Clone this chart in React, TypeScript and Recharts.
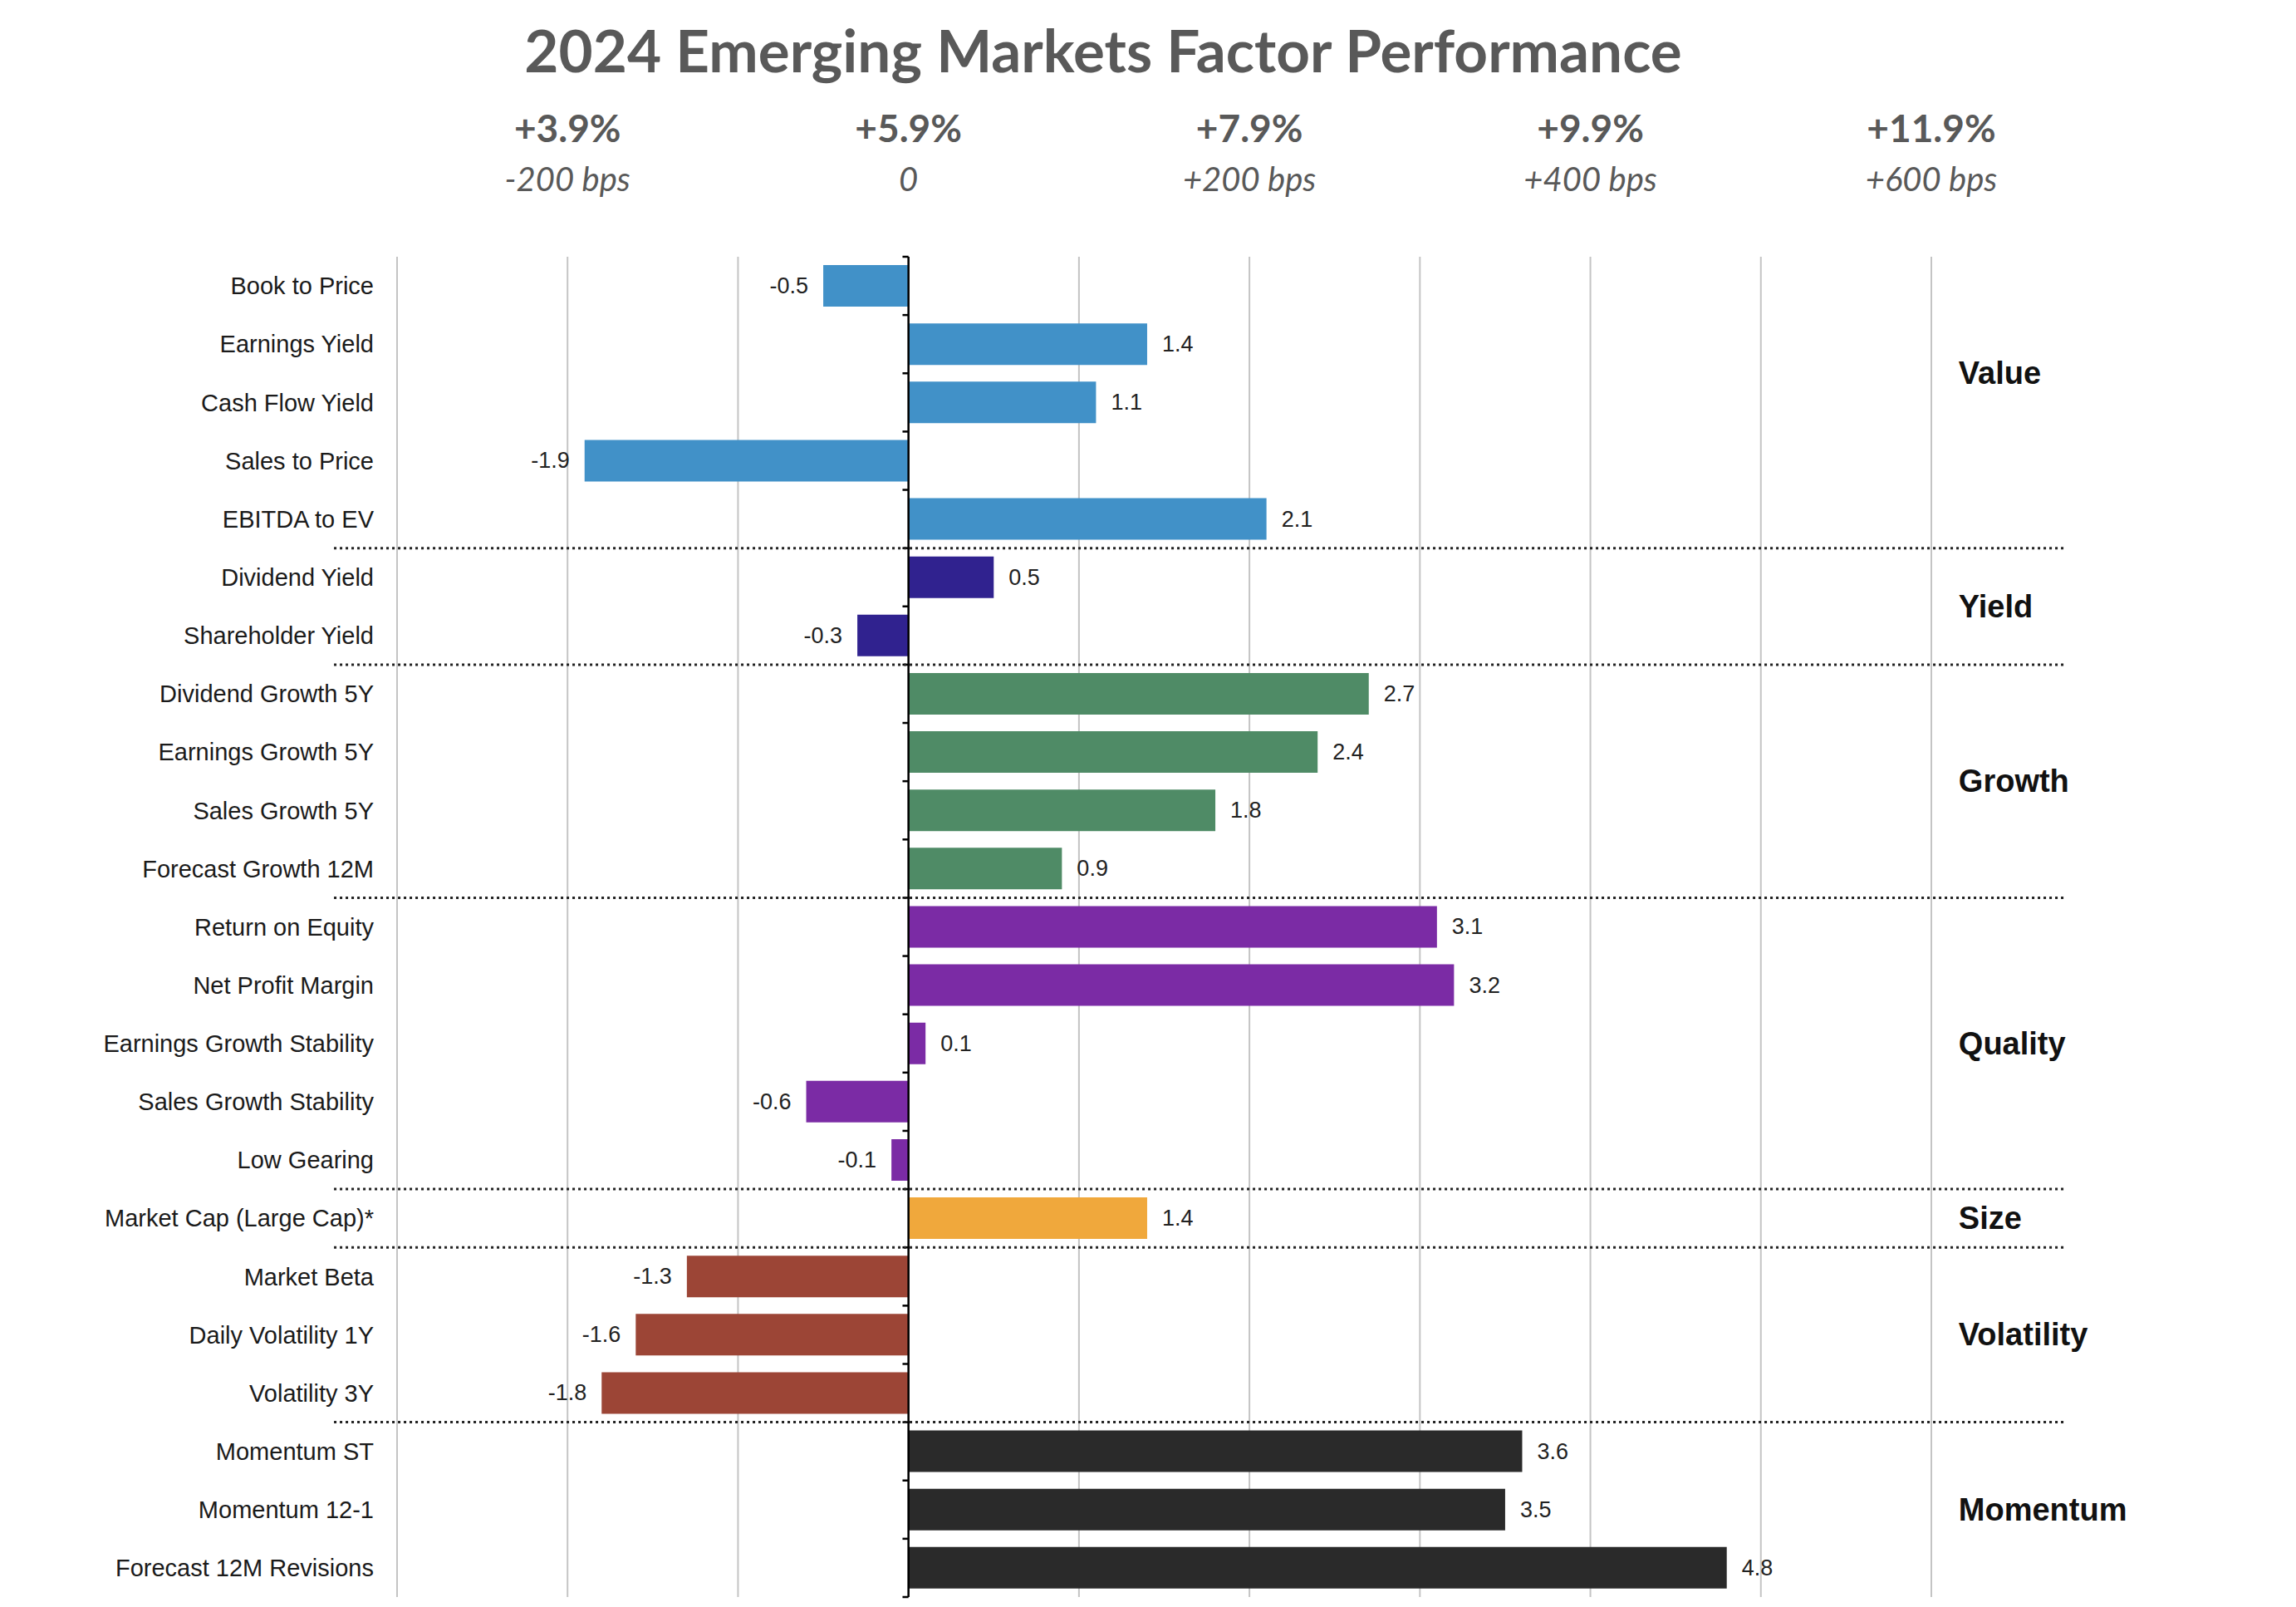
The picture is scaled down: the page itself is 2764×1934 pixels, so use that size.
import {
  Bar,
  BarChart,
  CartesianGrid,
  Cell,
  LabelList,
  ReferenceLine,
  XAxis,
  YAxis,
} from 'recharts';

// factor names, top to bottom
const factors = [
  'Book to Price',
  'Earnings Yield',
  'Cash Flow Yield',
  'Sales to Price',
  'EBITDA to EV',
  'Dividend Yield',
  'Shareholder Yield',
  'Dividend Growth 5Y',
  'Earnings Growth 5Y',
  'Sales Growth 5Y',
  'Forecast Growth 12M',
  'Return on Equity',
  'Net Profit Margin',
  'Earnings Growth Stability',
  'Sales Growth Stability',
  'Low Gearing',
  'Market Cap (Large Cap)*',
  'Market Beta',
  'Daily Volatility 1Y',
  'Volatility 3Y',
  'Momentum ST',
  'Momentum 12-1',
  'Forecast 12M Revisions',
];

// active return vs. the benchmark, in %
const returns = [
  -0.5, 1.4, 1.1, -1.9, 2.1, 0.5, -0.3, 2.7, 2.4, 1.8, 0.9, 3.1, 3.2, 0.1, -0.6, -0.1, 1.4,
  -1.3, -1.6, -1.8, 3.6, 3.5, 4.8,
];

const factorGroup = [
  'Value', 'Value', 'Value', 'Value', 'Value',
  'Yield', 'Yield',
  'Growth', 'Growth', 'Growth', 'Growth',
  'Quality', 'Quality', 'Quality', 'Quality', 'Quality',
  'Size',
  'Volatility', 'Volatility', 'Volatility',
  'Momentum', 'Momentum', 'Momentum',
];

// group label sits on this factor's row (band edge given by labelPos)
const groupLabels = [
  { name: 'Value', anchor: 'Earnings Yield', labelPos: 'end' },
  { name: 'Yield', anchor: 'Shareholder Yield', labelPos: 'start' },
  { name: 'Growth', anchor: 'Sales Growth 5Y', labelPos: 'start' },
  { name: 'Quality', anchor: 'Earnings Growth Stability', labelPos: 'middle' },
  { name: 'Size', anchor: 'Market Cap (Large Cap)*', labelPos: 'middle' },
  { name: 'Volatility', anchor: 'Daily Volatility 1Y', labelPos: 'middle' },
  { name: 'Momentum', anchor: 'Momentum 12-1', labelPos: 'middle' },
];

// first factor of each group after the first one
const groupStarts = [
  'Dividend Yield',
  'Dividend Growth 5Y',
  'Return on Equity',
  'Market Cap (Large Cap)*',
  'Market Beta',
  'Momentum ST',
];

const gridTicks = [-3, -2, -1, 0, 1, 2, 3, 4, 5, 6];
const headerTicks = [-2, 0, 2, 4, 6];
const benchmarkReturn = 5.9; // EM index 2024, %

const groupColors: Record<string, string> = {
  Value: '#4191C8',
  Yield: '#30228F',
  Growth: '#4F8B66',
  Quality: '#7B2BA5',
  Size: '#F0A83C',
  Volatility: '#9C4536',
  Momentum: '#2A2A2A',
};

const data = factors.map((name, i) => ({ name, value: returns[i], group: factorGroup[i] }));

const W = 2764;
const H = 1934;
const GREY = '#595959';
const HEAD_FONT = 'Lato, "Open Sans", sans-serif';
const BODY_FONT = '"Liberation Sans", Arial, sans-serif';

function HeaderTick(props: any) {
  const { x, y, payload } = props;
  if (!headerTicks.includes(payload.value)) return null;
  const v = payload.value;
  const total = (benchmarkReturn + v).toFixed(1);
  const bps = v === 0 ? '0' : `${v > 0 ? '+' : '-'}${Math.abs(v * 100)} bps`;
  return (
    <g>
      <text
        x={x}
        y={y - 156}
        textAnchor="middle"
        dominantBaseline="central"
        fill={GREY}
        fontFamily={HEAD_FONT}
        fontWeight={700}
        fontSize={46}
      >
        {`+${total}%`}
      </text>
      <text
        x={x}
        y={y - 94}
        textAnchor="middle"
        dominantBaseline="central"
        fill={GREY}
        fontFamily={HEAD_FONT}
        fontStyle="italic"
        fontSize={40}
      >
        {bps}
      </text>
    </g>
  );
}

function ValueLabel(props: any) {
  const { x, y, width, height, value } = props;
  const left = Math.min(x, x + width);
  const right = Math.max(x, x + width);
  const pos = value >= 0;
  return (
    <text
      x={pos ? right + 18 : left - 18}
      y={y + height / 2}
      textAnchor={pos ? 'start' : 'end'}
      dominantBaseline="central"
      fill="#222"
      fontFamily={BODY_FONT}
      fontSize={27}
    >
      {Number(value).toFixed(1)}
    </text>
  );
}

function GroupLabel({ viewBox, text }: any) {
  return (
    <text
      x={viewBox.x}
      y={viewBox.y}
      dominantBaseline="central"
      fill="#111"
      fontFamily={BODY_FONT}
      fontWeight={700}
      fontSize={38}
    >
      {text}
    </text>
  );
}

export default function App() {
  return (
    <div style={{ position: 'absolute', left: 0, top: 0, width: W, height: H, background: '#fff' }}>
      <div
        style={{
          position: 'absolute',
          left: 0,
          width: 2656,
          top: 20,
          textAlign: 'center',
          fontFamily: HEAD_FONT,
          fontWeight: 700,
          fontSize: 71,
          color: GREY,
          lineHeight: '80px',
        }}
      >
        2024 Emerging Markets Factor Performance
      </div>
      <BarChart
        width={W}
        height={H}
        data={data}
        layout="vertical"
        margin={{ top: 169, right: 439, bottom: 12, left: 0 }}
        style={{ position: 'absolute', left: 0, top: 0 }}
      >
        <CartesianGrid horizontal={false} stroke="#C4C4C4" strokeWidth={2} />
        <XAxis
          type="number"
          orientation="top"
          domain={[-3, 6]}
          ticks={gridTicks}
          height={140}
          axisLine={false}
          tickLine={false}
          tickSize={0}
          tickMargin={0}
          tick={<HeaderTick />}
          interval={0}
        />
        <YAxis
          type="category"
          dataKey="name"
          width={478}
          axisLine={false}
          tickLine={false}
          tickSize={0}
          tickMargin={28}
          interval={0}
          tick={{ fill: '#1a1a1a', fontSize: 29, fontFamily: BODY_FONT }}
        />
        <Bar dataKey="value" barSize={50} isAnimationActive={false}>
          {data.map((d) => (
            <Cell key={d.name} fill={groupColors[d.group]} />
          ))}
          <LabelList dataKey="value" content={<ValueLabel />} />
        </Bar>
        <ReferenceLine x={0} stroke="#000" strokeWidth={2.5} />
        {factors.map((f) => (
          <ReferenceLine
            key={`tk-${f}`}
            segment={[
              { x: -0.035, y: f },
              { x: 0, y: f },
            ]}
            position="start"
            stroke="#000"
            strokeWidth={2.5}
            ifOverflow="visible"
          />
        ))}
        <ReferenceLine
          segment={[
            { x: -0.035, y: factors[factors.length - 1] },
            { x: 0, y: factors[factors.length - 1] },
          ]}
          position="end"
          stroke="#000"
          strokeWidth={2.5}
          ifOverflow="visible"
        />
        {groupStarts.map((f) => (
          <ReferenceLine
            key={`sep-${f}`}
            segment={[
              { x: -3.37, y: f },
              { x: 6.78, y: f },
            ]}
            position="start"
            stroke="#222"
            strokeWidth={3}
            strokeDasharray="3 4"
            ifOverflow="visible"
          />
        ))}
        {groupLabels.map((g) => (
          <ReferenceLine
            key={`gl-${g.name}`}
            segment={[
              { x: 6.16, y: g.anchor },
              { x: 6.161, y: g.anchor },
            ]}
            position={g.labelPos as any}
            stroke="none"
            ifOverflow="visible"
            label={<GroupLabel text={g.name} />}
          />
        ))}
      </BarChart>
    </div>
  );
}
